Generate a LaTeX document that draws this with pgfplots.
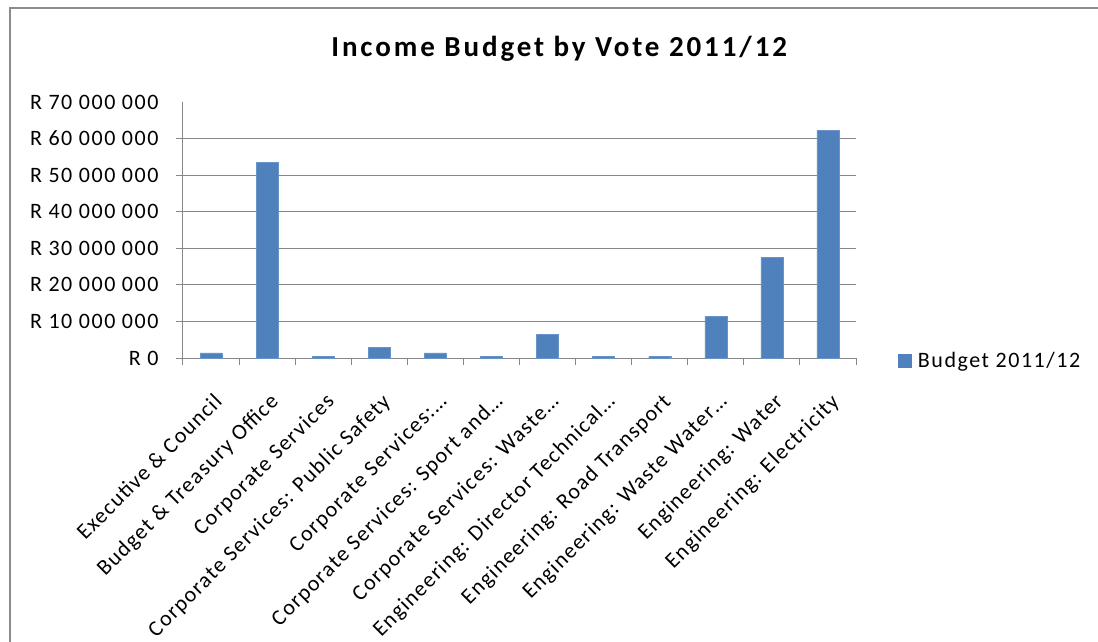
\documentclass[border=0pt]{standalone}
\usepackage{pgfplots}
\pgfplotsset{compat=1.18}
\usepackage{fontspec}
\setmainfont{Carlito}
\newfontfamily\ttlfont[LetterSpace=10]{Carlito}
\newfontfamily\xlabfont[LetterSpace=6]{Carlito}
\newfontfamily\ylabfont[LetterSpace=7]{Carlito}
\definecolor{barblue}{HTML}{4F81BD}
\definecolor{gridgray}{HTML}{868686}
\definecolor{framegray}{HTML}{8C8C8C}
\begin{document}
\begin{tikzpicture}
\useasboundingbox (-183pt,-283pt) rectangle (915pt,358pt);
\begin{axis}[
  at={(0pt,0pt)}, anchor=south west,
  scale only axis, width=673pt, height=256pt,
  ybar, bar width=22pt,
  xmin=-0.5, xmax=11.5, ymin=0, ymax=70000000,
  xtick={0,...,11},
  xticklabels={Executive \& Council, Budget \& Treasury Office, Corporate Services, Corporate Services: Public Safety, Corporate Services:…, Corporate Services: Sport and…, Corporate Services: Waste…, Engineering: Director Technical…, Engineering: Road Transport, Engineering: Waste Water…, Engineering: Water, Engineering: Electricity},
  major x tick style={draw=none},
  minor xtick={-0.5,0.5,...,11.5},
  minor x tick style={draw=gridgray, line width=1pt},
  tick align=outside,
  major tick length=7pt, minor tick length=7pt,
  scaled y ticks=false,
  ytick={0,10000000,20000000,30000000,40000000,50000000,60000000},
  yticklabels={R 0, R 10 000 000, R 20 000 000, R 30 000 000, R 40 000 000, R 50 000 000, R 60 000 000},
  extra y ticks={70000000},
  extra y tick labels={R 70 000 000},
  extra y tick style={grid=none, major tick length=0pt, yticklabel style={xshift=-7pt}},
  y tick style={draw=gridgray, line width=1pt},
  ymajorgrids,
  grid style={draw=gridgray, line width=1pt},
  axis x line*=bottom, axis y line*=left,
  axis line style={draw=gridgray, line width=1pt, -},
  yticklabel style={font=\ylabfont\fontsize{22}{26}\selectfont, xshift=-14pt},
  xticklabel style={font=\xlabfont\fontsize{22}{26}\selectfont, rotate=45, anchor=north east, inner sep=2pt, xshift=-16pt, yshift=-18pt},
  title={Income Budget by Vote 2011/12},
  title style={at={(0.559,1.185)}, anchor=center, font=\ttlfont\bfseries\fontsize{29}{33}\selectfont},
  legend style={at={(1.057,-0.012)}, anchor=west, draw=none, fill=none, font=\ylabfont\fontsize{22}{26}\selectfont},
  legend image code/.code={\fill[barblue] (0pt,-6.5pt) rectangle (13pt,6.5pt); \path (18pt,0pt);},
]
\addplot[fill=barblue, draw=barblue!85!white] coordinates {
(0,1400000) (1,53500000) (2,400000) (3,2900000) (4,1400000) (5,400000)
(6,6500000) (7,400000) (8,400000) (9,11400000) (10,27600000) (11,62200000)};
\addlegendentry{Budget 2011/12}
\end{axis}
\draw[framegray, line width=2pt] (-173pt,-300pt) -- (-173pt,350pt) -- (930pt,350pt);
\end{tikzpicture}
\end{document}
